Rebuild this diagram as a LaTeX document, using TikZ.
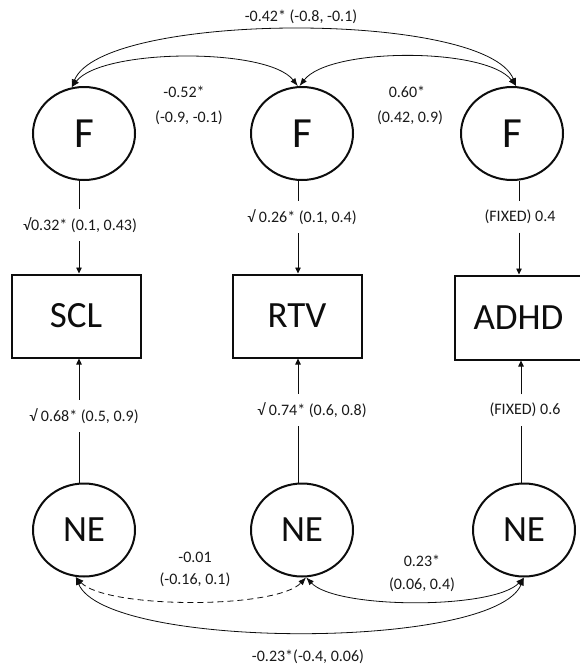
\documentclass[tikz,border=0pt]{standalone}
\usepackage{fontspec}
\setmainfont{Carlito}
\usetikzlibrary{shapes.geometric,arrows.meta}
\begin{document}
\begin{tikzpicture}[x=1pt,y=-1pt,
  latent/.style={ellipse,draw=black!95,line width=2pt,minimum width=102pt,minimum height=93pt,inner sep=0pt,text=black!95},
  fvar/.style={latent,font=\fontsize{43}{43}\selectfont},
  nevar/.style={latent,font=\fontsize{37}{37}\selectfont},
  obs/.style={rectangle,draw=black!95,line width=2pt,minimum width=129pt,minimum height=83pt,inner sep=0pt,text=black!95,font=\fontsize{37}{37}\selectfont},
  lab/.style={font=\fontsize{16}{16}\selectfont,text=black!90,inner xsep=2pt,inner ysep=8.5pt},
  link/.style={line width=0.8pt,draw=black!95},
  load/.style={link,-{Triangle[length=6pt,width=5.5pt]}},
  cov/.style={link,{Latex[length=8pt,width=6pt]}-{Latex[length=8pt,width=6pt]}},
]
\useasboundingbox (0,0) rectangle (580,667);
\clip (0,0) rectangle (580,667);

% latent factors
\node[fvar] (f1) at (84,133.5) {F};
\node[fvar] (f2) at (302,133.5) {F};
\node[fvar] (f3) at (512,133.5) {F};

% observed measures
\node[obs] (scl) at (76,316) {SCL};
\node[obs] (rtv) at (297,316) {RTV};
\node[obs,minimum width=134pt,minimum height=84pt] (adhd) at (522,317.5) {ADHD\hspace*{7pt}};

% non-shared environment
\node[nevar] (ne1) at (84,530) {NE};
\node[nevar] (ne2) at (302,530) {NE};
\node[nevar] (ne3) at (524,530) {NE};

% loading columns
\coordinate (ca) at (79,0);
\coordinate (cb) at (298,0);
\coordinate (cc) at (519,0);
\coordinate (cd) at (521,0);

% factor loadings
\node[lab] (l1) at (80,225) {√0.32* (0.1, 0.43)};
\node[lab] (l2) at (302,217) {√ 0.26* (0.1, 0.4)};
\node[lab] (l3) at (520,217) {(FIXED) 0.4};
\draw[link] (ca |- f1.south) -- (ca |- l1.north);
\draw[load] (ca |- l1.south) -- (ca |- scl.north);
\draw[link] (cb |- f2.south) -- (cb |- l2.north);
\draw[load] (cb |- l2.south) -- (cb |- rtv.north);
\draw[link] (cc |- f3.south) -- (cc |- l3.north);
\draw[load] (cc |- l3.south) -- (cc |- adhd.north);

% environment loadings
\node[lab] (l4) at (84,416) {√ 0.68* (0.5, 0.9)};
\node[lab] (l5) at (312,410) {√ 0.74* (0.6, 0.8)};
\node[lab] (l6) at (525,410) {(FIXED) 0.6};
\draw[link] (ca |- ne1.north) -- (ca |- l4.south);
\draw[load] (ca |- l4.north) -- (ca |- scl.south);
\draw[link] (cb |- ne2.north) -- (cb |- l5.south);
\draw[load] (cb |- l5.north) -- (cb |- rtv.south);
\draw[link] (cd |- ne3.north) -- (cd |- l6.south);
\draw[load] (cd |- l6.north) -- (cd |- adhd.south);

% factor correlations
\draw[cov] (f1.105) .. controls +(30,-76) and +(-30,-76) .. (f3.85);
\draw[cov] (f1.105) .. controls +(30,-39) and +(-30,-39) .. (f2.95);
\draw[cov] (f2.93) .. controls +(30,-39) and +(-30,-39) .. (f3.85);
\node[lab] (t13) at (301,17) {-0.42* (-0.8, -0.1)};
\node[lab] (t12a) at (184,92) {-0.52*};
\node[lab] (t12b) at (189,118) {(-0.9, -0.1)};
\node[lab] (t23a) at (407,92) {0.60*};
\node[lab] (t23b) at (410,118) {(0.42, 0.9)};

% environment correlations
\draw[cov,dash pattern=on 6pt off 4pt] (ne1.-100) .. controls +(30,32) and +(-30,32) .. (ne2.-85);
\draw[cov] (ne2.-85) .. controls +(30,32) and +(-30,32) .. (ne3.-90);
\draw[cov] (ne1.-100) .. controls +(30,73) and +(-30,73) .. (ne3.-90);
\node[lab] (b12a) at (195,557) {-0.01};
\node[lab] (b12b) at (195,580) {(-0.16, 0.1)};
\node[lab] (b23a) at (422,561) {0.23*};
\node[lab] (b23b) at (422,585) {(0.06, 0.4)};
\node[lab] (b13) at (308,657) {-0.23*(-0.4, 0.06)};
\end{tikzpicture}
\end{document}
